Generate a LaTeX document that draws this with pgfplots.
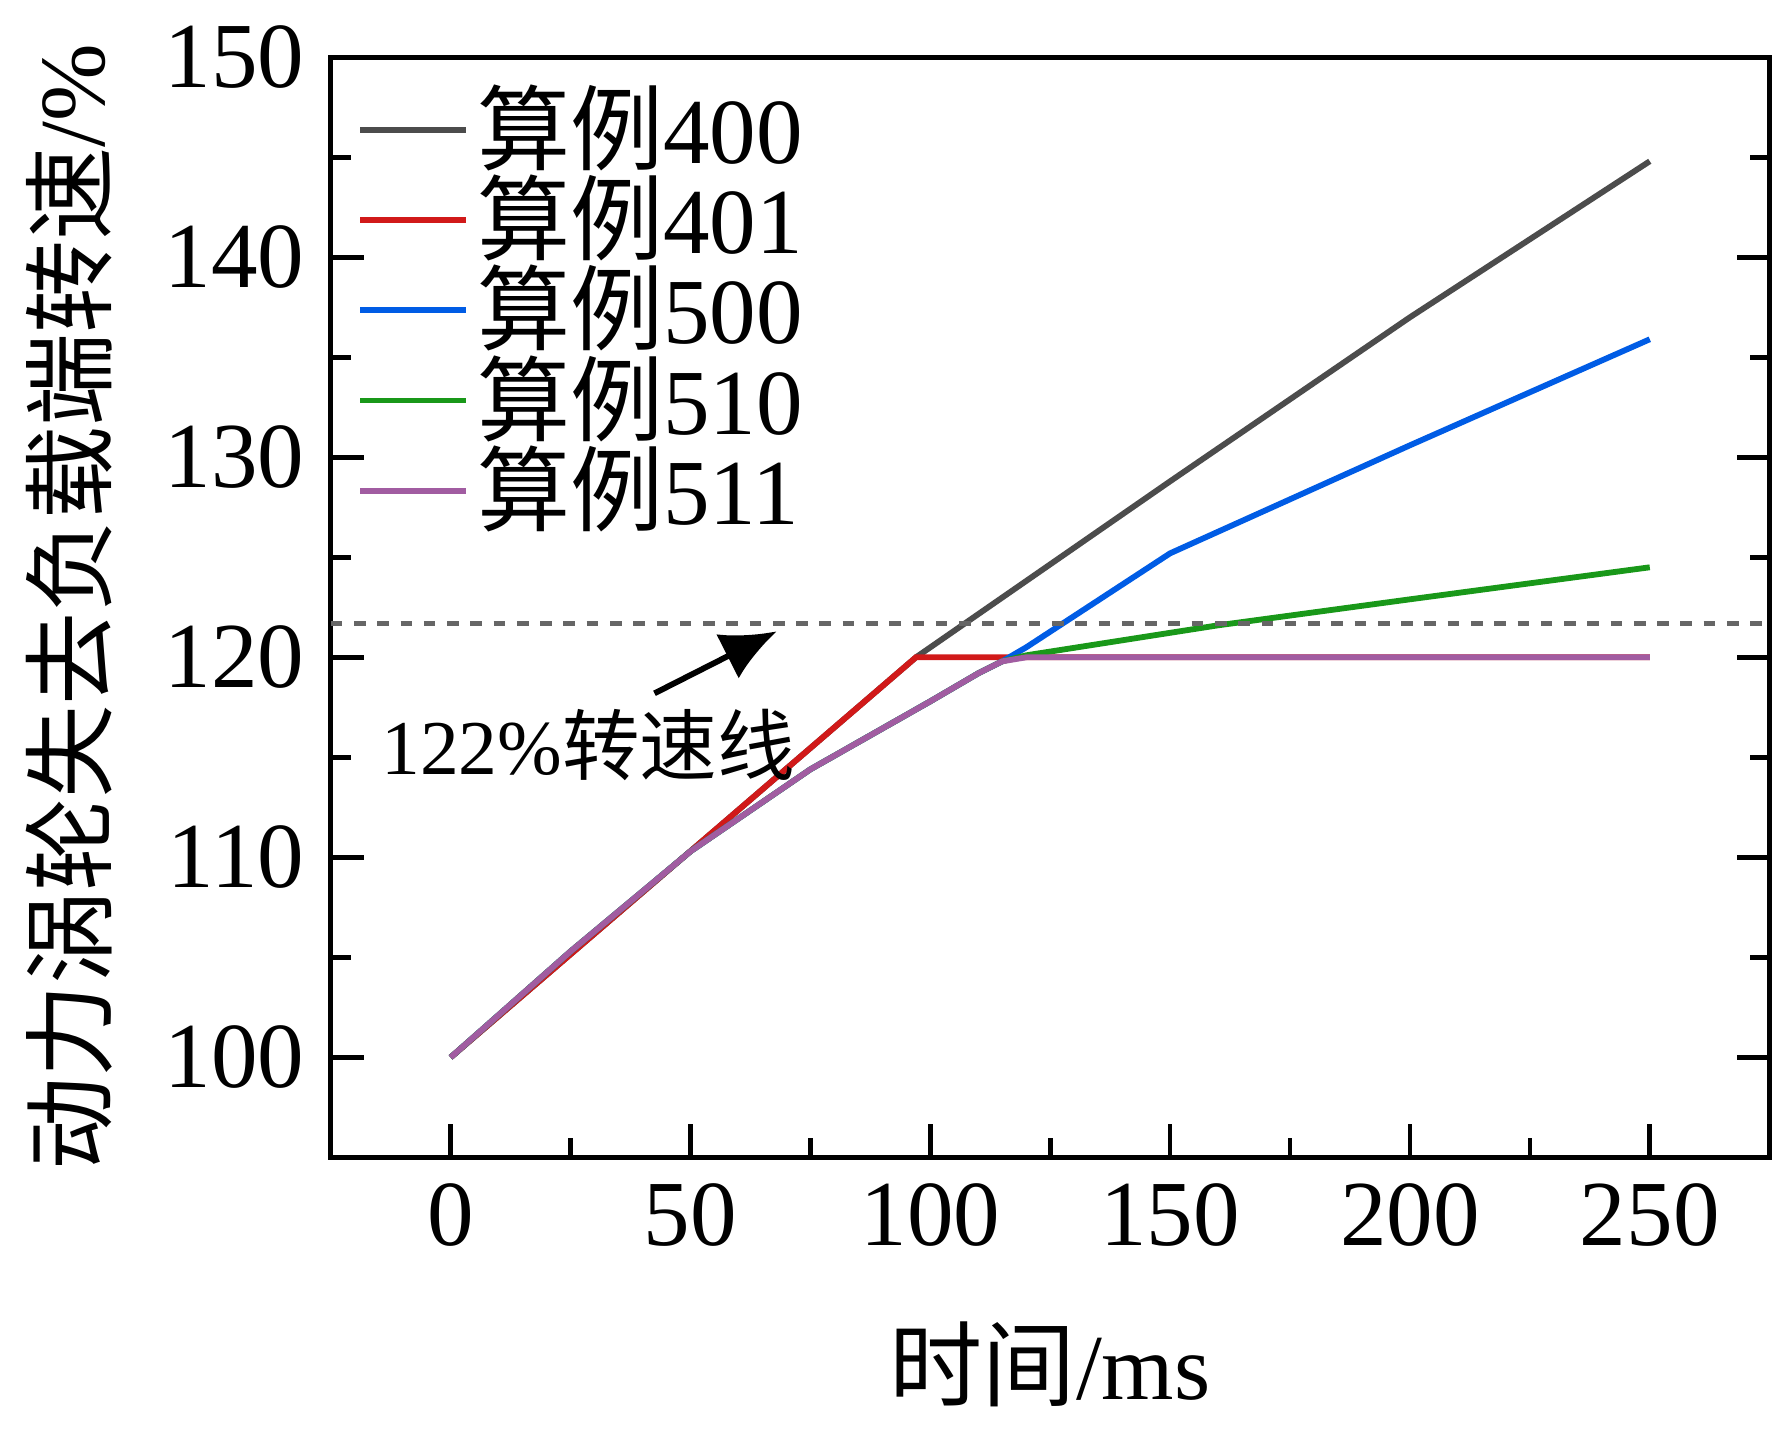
\documentclass[border=0pt]{standalone}
\usepackage{pgfplots}
\pgfplotsset{compat=1.18}
\usetikzlibrary{arrows.meta}
\usepackage{fontspec}
\setmainfont{Liberation Serif}
\newfontfamily\cjk{Noto Sans CJK SC}
\begin{document}
\begin{tikzpicture}
\fontsize{20}{24}\selectfont
\begin{axis}[
  scale only axis, width=13.04cm, height=9.97cm,
  xmin=-25, xmax=275, ymin=95, ymax=150,
  xtick={0,50,...,250}, ytick={100,110,...,150},
  minor xtick={25,75,...,225}, minor ytick={95,105,...,145},
  xtick pos=bottom, ytick pos=both, tick align=inside,
  major tick length=0.3cm, minor tick length=0.18cm,
  every tick/.style={black, line width=1.2pt},
  axis line style={line width=1.2pt},
  tick label style={font=\fontsize{24}{28}\selectfont},
  /pgf/number format/assume math mode=true,
  xlabel={{\cjk 时间}/ms}, ylabel={{\cjk 动力涡轮失去负载端转速}/\%},
  label style={font=\fontsize{24}{28}\selectfont},
  xlabel style={yshift=-0.2cm},
  legend style={draw=none, fill=none, at={(0.01,0.99)}, anchor=north west, font=\fontsize{24}{28}\selectfont, row sep=-4pt},
  legend cell align=left,
  legend image post style={xscale=1.6},
]
\addplot[color=black!70, line width=1.5pt] coordinates {(0,100)(97,120)(150,128.8)(200,137.0)(250,144.8)};
\addlegendentry{{\cjk 算例}400}
\addplot[color=red!80!black!90, line width=1.5pt] coordinates {(0,100)(97,120)(250,120)};
\addlegendentry{{\cjk 算例}401}
\addplot[color=blue!60!cyan!90!black, line width=1.5pt] coordinates {(0,100)(25,105.3)(50,110.3)(75,114.4)(100,117.8)(110,119.2)(115,119.8)(120,120.5)(150,125.2)(200,130.6)(250,135.9)};
\addlegendentry{{\cjk 算例}500}
\addplot[color=green!55!black!90, line width=1.5pt] coordinates {(0,100)(25,105.3)(50,110.3)(75,114.4)(100,117.8)(110,119.2)(115,119.8)(120,120.1)(160,121.6)(200,122.9)(250,124.5)};
\addlegendentry{{\cjk 算例}510}
\addplot[color=violet!60!white!90!black, line width=1.5pt] coordinates {(0,100)(25,105.3)(50,110.3)(75,114.4)(100,117.8)(110,119.2)(115,119.8)(120,120)(250,120)};
\addlegendentry{{\cjk 算例}511}
\addplot[color=black!60, dashed, line width=1.3pt, forget plot] coordinates {(-25,121.7)(275,121.7)};
\draw[-{Latex[length=0.5cm,width=0.45cm]}, line width=1.5pt] (axis cs:42.5,118.2) -- (axis cs:68,121.3);
\node[anchor=west] at (axis cs:-20,115.6) {122\%{\cjk 转速线}};
\end{axis}
\end{tikzpicture}
\end{document}
